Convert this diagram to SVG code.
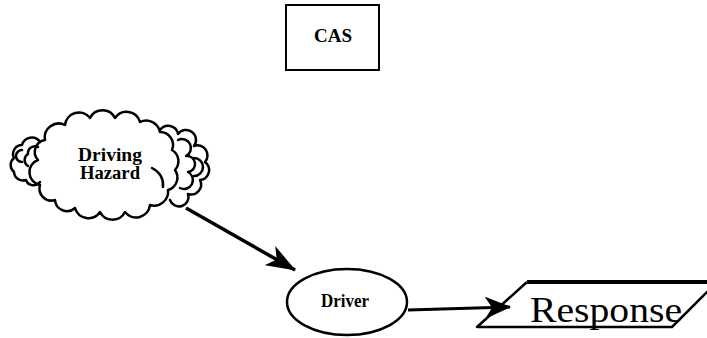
<svg xmlns="http://www.w3.org/2000/svg" width="707" height="338" viewBox="0 0 707 338">
<defs>
<style>
.ln{fill:none;stroke:#000;stroke-width:2.5;stroke-linecap:round;stroke-linejoin:round}
.lbl{font-family:"Liberation Serif","Times New Roman",serif;font-weight:bold;fill:#000;text-anchor:middle}
</style>
<marker id="ah" viewBox="0 0 30 22" refX="29" refY="11" markerWidth="30" markerHeight="22" markerUnits="userSpaceOnUse" orient="auto">
<path d="M0,0 L30,11 L0,22 L8,11 Z" fill="#000"/>
</marker>
<marker id="ah2" viewBox="0 0 26 22" refX="25" refY="11" markerWidth="26" markerHeight="22" markerUnits="userSpaceOnUse" orient="auto">
<path d="M0,0 L26,11 L0,22 L7,11 Z" fill="#000"/>
</marker>
</defs>
<rect width="707" height="338" fill="#fff"/>
<g id="cas">
<rect x="286" y="5" width="93" height="65" fill="none" stroke="#000" stroke-width="2"/>
<text class="lbl" x="333" y="42" font-size="19">CAS</text>
</g>
<g id="hazard">
<path class="ln" d="M45,140 A14,14 0 0 1 65,125 A14,14 0 0 1 90,118 A14,14 0 0 1 115,118 A14,14 0 0 1 140,122 A14,14 0 0 1 160,132 A13,13 0 0 1 172,150 A13,13 0 0 1 175,170 A13,13 0 0 1 168,190 A14,14 0 0 1 150,205 A14,14 0 0 1 125,212 A14,14 0 0 1 100,212 A14,14 0 0 1 75,208 A12,12 0 0 1 55,200 A12,12 0 0 1 40,185 A13,13 0 0 1 38,160 A12,12 0 0 1 45,140 Z"/>
<path class="ln" d="M40,142 A10,10 0 0 0 22,145 A9,9 0 0 0 14,158 A9,9 0 0 0 14,172 A9,9 0 0 0 26,180 A8,8 0 0 0 40,182"/>
<path class="ln" d="M38,147 A7,7 0 0 0 28,154 A7,7 0 0 0 28,166 M22,150 A6,6 0 0 0 22,162"/>
<path class="ln" d="M160,130 A10,10 0 0 1 178,134 A10,10 0 0 1 194,146 A10,10 0 0 1 205,162 A10,10 0 0 1 200,180 A10,10 0 0 1 188,194 A9,9 0 0 1 170,200"/>
<path class="ln" d="M178,140 A8,8 0 0 1 186,156 A8,8 0 0 1 188,172 A8,8 0 0 1 180,188 M194,158 A6,6 0 0 1 194,176"/>
<path class="ln" d="M152,168 Q164,174 163,187"/>
<text class="lbl" x="110" y="161" font-size="18" textLength="64" lengthAdjust="spacingAndGlyphs">Driving</text>
<text class="lbl" x="110" y="179" font-size="18" textLength="60" lengthAdjust="spacingAndGlyphs">Hazard</text>
</g>
<g id="driver">
<ellipse cx="347" cy="302" rx="60" ry="33" fill="none" stroke="#000" stroke-width="2.5"/>
<text class="lbl" x="345" y="307" font-size="18" textLength="48" lengthAdjust="spacingAndGlyphs">Driver</text>
</g>
<g id="response">
<path d="M527,282 L720,282" stroke="#000" stroke-width="4" fill="none"/>
<path d="M527,282 L477,327 L672,327 L717,282" stroke="#000" stroke-width="2.5" fill="none" stroke-linejoin="round"/>
<text x="606" y="322" font-family="'Liberation Serif','Times New Roman',serif" font-size="36" text-anchor="middle" textLength="152" lengthAdjust="spacingAndGlyphs">Response</text>
</g>
<g id="connectors">
<line x1="186" y1="208" x2="295" y2="270" stroke="#000" stroke-width="3.5" marker-end="url(#ah)"/>
<line x1="408" y1="310" x2="510" y2="307" stroke="#000" stroke-width="3" marker-end="url(#ah2)"/>
</g>
</svg>
